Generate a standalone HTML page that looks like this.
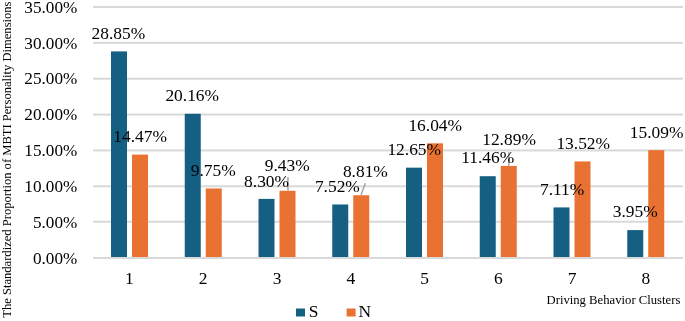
<!DOCTYPE html>
<html><head><meta charset="utf-8"><style>
html,body{margin:0;padding:0;background:#fff;width:685px;height:321px;overflow:hidden}
svg{display:block;will-change:transform}
.t{font-family:"Liberation Serif",serif;font-size:17px;fill:#000}
.s{font-family:"Liberation Serif",serif;font-size:13.5px;fill:#000}
</style></head><body>
<svg width="685" height="321" viewBox="0 0 685 321">
<rect x="93" y="257.00" width="590" height="2" fill="#d9d9d9"/>
<rect x="93" y="220.74" width="590" height="2" fill="#d9d9d9"/>
<rect x="93" y="185.29" width="590" height="2" fill="#d9d9d9"/>
<rect x="93" y="149.43" width="590" height="2" fill="#d9d9d9"/>
<rect x="93" y="113.57" width="590" height="2" fill="#d9d9d9"/>
<rect x="93" y="77.72" width="590" height="2" fill="#d9d9d9"/>
<rect x="93" y="41.86" width="590" height="2" fill="#d9d9d9"/>
<rect x="93" y="6.00" width="590" height="2" fill="#d9d9d9"/>
<rect x="111.00" y="51.39" width="16" height="206.61" fill="#156082"/>
<rect x="132.00" y="154.60" width="16" height="103.40" fill="#E97132"/>
<rect x="184.75" y="113.76" width="16" height="144.24" fill="#156082"/>
<rect x="205.75" y="188.47" width="16" height="69.53" fill="#E97132"/>
<rect x="258.50" y="198.88" width="16" height="59.12" fill="#156082"/>
<rect x="279.50" y="190.77" width="16" height="67.23" fill="#E97132"/>
<rect x="332.25" y="204.48" width="16" height="53.52" fill="#156082"/>
<rect x="353.25" y="195.22" width="16" height="62.78" fill="#E97132"/>
<rect x="406.00" y="167.66" width="16" height="90.34" fill="#156082"/>
<rect x="427.00" y="143.33" width="16" height="114.67" fill="#E97132"/>
<rect x="479.75" y="176.20" width="16" height="81.80" fill="#156082"/>
<rect x="500.75" y="165.94" width="16" height="92.06" fill="#E97132"/>
<rect x="553.50" y="207.42" width="16" height="50.58" fill="#156082"/>
<rect x="574.50" y="161.42" width="16" height="96.58" fill="#E97132"/>
<rect x="627.25" y="230.10" width="16" height="27.90" fill="#156082"/>
<rect x="648.25" y="150.15" width="16" height="107.85" fill="#E97132"/>
<rect x="93" y="257" width="590" height="2" fill="#d9d9d9"/>
<line x1="287.95" y1="177.2" x2="287.95" y2="190.5" stroke="#a0a0a0" stroke-width="1.5"/>
<line x1="365.3" y1="183.2" x2="361.1" y2="194.7" stroke="#a0a0a0" stroke-width="1.4"/>
<line x1="508.8" y1="152.2" x2="508.8" y2="166" stroke="#a0a0a0" stroke-width="1.3"/>
<rect x="296" y="308.5" width="9" height="8" fill="#156082"/>
<rect x="346.6" y="308.5" width="9" height="8" fill="#E97132"/>
<text id="d0" transform="translate(91.60,39.10) scale(1.025,1)" class="t">28.85%</text>
<text id="d1" transform="translate(113.30,141.90) scale(1.025,1)" class="t">14.47%</text>
<text id="d2" transform="translate(165.40,101.00) scale(1.025,1)" class="t">20.16%</text>
<text id="d3" transform="translate(190.80,176.40) scale(1.025,1)" class="t">9.75%</text>
<text id="d4" transform="translate(244.10,186.60) scale(1.025,1)" class="t">8.30%</text>
<text id="d5" transform="translate(264.80,170.70) scale(1.025,1)" class="t">9.43%</text>
<text id="d6" transform="translate(314.90,191.90) scale(1.025,1)" class="t">7.52%</text>
<text id="d7" transform="translate(342.90,176.70) scale(1.025,1)" class="t">8.81%</text>
<text id="d8" transform="translate(387.40,155.20) scale(1.025,1)" class="t">12.65%</text>
<text id="d9" transform="translate(408.40,131.00) scale(1.025,1)" class="t">16.04%</text>
<text id="d10" transform="translate(461.20,163.20) scale(1.025,1)" class="t">11.46%</text>
<text id="d11" transform="translate(482.20,145.20) scale(1.025,1)" class="t">12.89%</text>
<text id="d12" transform="translate(540.00,195.10) scale(1.025,1)" class="t">7.11%</text>
<text id="d13" transform="translate(556.40,148.70) scale(1.025,1)" class="t">13.52%</text>
<text id="d14" transform="translate(612.80,217.10) scale(1.025,1)" class="t">3.95%</text>
<text id="d15" transform="translate(629.80,137.70) scale(1.025,1)" class="t">15.09%</text>
<text id="y0" transform="translate(77.30,263.70) scale(1.012,1)" class="t" text-anchor="end">0.00%</text>
<text id="y1" transform="translate(77.30,227.84) scale(1.012,1)" class="t" text-anchor="end">5.00%</text>
<text id="y2" transform="translate(77.30,191.99) scale(1.012,1)" class="t" text-anchor="end">10.00%</text>
<text id="y3" transform="translate(77.30,156.13) scale(1.012,1)" class="t" text-anchor="end">15.00%</text>
<text id="y4" transform="translate(77.30,120.27) scale(1.012,1)" class="t" text-anchor="end">20.00%</text>
<text id="y5" transform="translate(77.30,84.42) scale(1.012,1)" class="t" text-anchor="end">25.00%</text>
<text id="y6" transform="translate(77.30,48.56) scale(1.012,1)" class="t" text-anchor="end">30.00%</text>
<text id="y7" transform="translate(77.30,12.70) scale(1.012,1)" class="t" text-anchor="end">35.00%</text>
<text id="c0" transform="translate(129.47,283.80) scale(1.025,1)" class="t" text-anchor="middle">1</text>
<text id="c1" transform="translate(203.22,283.80) scale(1.025,1)" class="t" text-anchor="middle">2</text>
<text id="c2" transform="translate(276.98,283.80) scale(1.025,1)" class="t" text-anchor="middle">3</text>
<text id="c3" transform="translate(350.73,283.80) scale(1.025,1)" class="t" text-anchor="middle">4</text>
<text id="c4" transform="translate(424.48,283.80) scale(1.025,1)" class="t" text-anchor="middle">5</text>
<text id="c5" transform="translate(498.23,283.80) scale(1.025,1)" class="t" text-anchor="middle">6</text>
<text id="c6" transform="translate(571.98,283.80) scale(1.025,1)" class="t" text-anchor="middle">7</text>
<text id="c7" transform="translate(645.73,283.80) scale(1.025,1)" class="t" text-anchor="middle">8</text>
<text id="xt" transform="translate(546.50,303.70) scale(0.94,1)" class="s">Driving Behavior Clusters</text>
<text id="ls" transform="translate(308.80,317.20) scale(1.025,1)" class="t">S</text>
<text id="ln" transform="translate(358.60,317.00) scale(1.025,1)" class="t">N</text>
<text id="yt" transform="translate(10.50,317.70) rotate(-90) scale(0.932,1)" class="s">The Standardized Proportion of MBTI Personality Dimensions</text>
</svg>
</body></html>
